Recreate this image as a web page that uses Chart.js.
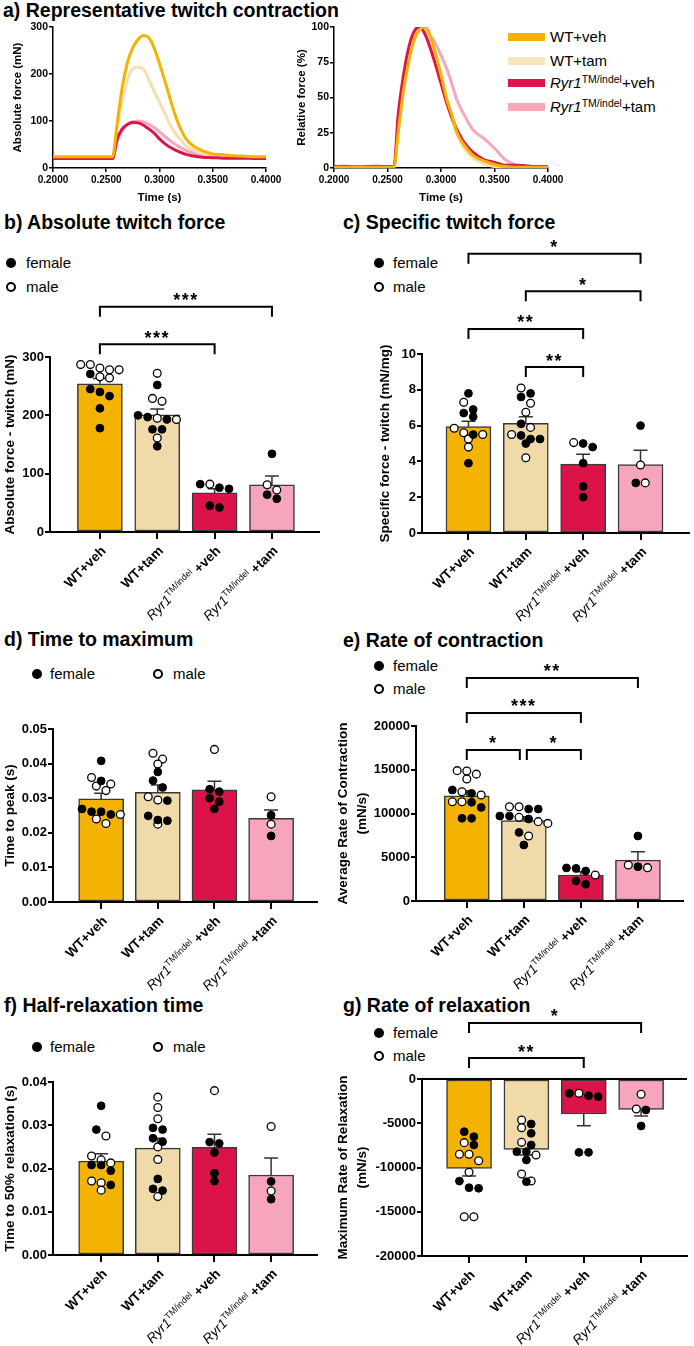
<!DOCTYPE html>
<html>
<head>
<meta charset="utf-8">
<script src="https://cdn.jsdelivr.net/npm/chart.js@4.4.1/dist/chart.umd.min.js"></script>
<style>
  body { margin: 0; background: #fff; font-family: "Liberation Sans", Arial, sans-serif; color: #000; }
  #page { position: relative; width: 694px; height: 1346px; overflow: hidden; }
  canvas { position: absolute; }
  .ttl { position: absolute; font-size: 19.5px; font-weight: bold; line-height: 20px; white-space: nowrap; }
  .lg { position: absolute; font-size: 15px; line-height: 16px; white-space: nowrap; }
  .lg sup { font-size: 10.5px; vertical-align: 5px; line-height: 0; }
  .dot { position: absolute; width: 10px; height: 10px; border-radius: 50%; background: #000; box-sizing: border-box; }
  .dot.m { background: #fff; border: 2px solid #000; }
  .sw { position: absolute; width: 37px; height: 8px; }
</style>
</head>
<body>
<div id="page">
  <div class="ttl" style="left:3px;top:0px">a) Representative twitch contraction</div>
  <div class="ttl" style="left:4px;top:212px">b) Absolute twitch force</div>
  <div class="ttl" style="left:343px;top:212px">c) Specific twitch force</div>
  <div class="ttl" style="left:4px;top:629px">d) Time to maximum</div>
  <div class="ttl" style="left:343px;top:630px">e) Rate of contraction</div>
  <div class="ttl" style="left:4px;top:995px">f) Half-relaxation time</div>
  <div class="ttl" style="left:343px;top:995px">g) Rate of relaxation</div>

  <div class="sw" style="left:508px;top:33px;background:#F5B301"></div>
  <div class="lg" style="left:550px;top:29px">WT+veh</div>
  <div class="sw" style="left:508px;top:57px;background:#F9E4BC"></div>
  <div class="lg" style="left:550px;top:53px">WT+tam</div>
  <div class="sw" style="left:508px;top:79px;background:#DC164A"></div>
  <div class="lg" style="left:550px;top:75px"><i>Ryr1</i><sup>TM/indel</sup>+veh</div>
  <div class="sw" style="left:508px;top:103px;background:#F7A6BC"></div>
  <div class="lg" style="left:550px;top:99px"><i>Ryr1</i><sup>TM/indel</sup>+tam</div>

  <div class="dot" style="left:6px;top:258px"></div><div class="lg" style="left:26px;top:255px">female</div>
  <div class="dot m" style="left:6px;top:282px"></div><div class="lg" style="left:26px;top:279px">male</div>
  <div class="dot" style="left:374px;top:258px"></div><div class="lg" style="left:393px;top:255px">female</div>
  <div class="dot m" style="left:374px;top:282px"></div><div class="lg" style="left:393px;top:279px">male</div>
  <div class="dot" style="left:32px;top:669px"></div><div class="lg" style="left:50px;top:666px">female</div>
  <div class="dot m" style="left:153px;top:669px"></div><div class="lg" style="left:173px;top:666px">male</div>
  <div class="dot" style="left:374px;top:661px"></div><div class="lg" style="left:393px;top:658px">female</div>
  <div class="dot m" style="left:374px;top:684px"></div><div class="lg" style="left:393px;top:681px">male</div>
  <div class="dot" style="left:32px;top:1042px"></div><div class="lg" style="left:50px;top:1039px">female</div>
  <div class="dot m" style="left:153px;top:1042px"></div><div class="lg" style="left:173px;top:1039px">male</div>
  <div class="dot" style="left:374px;top:1028px"></div><div class="lg" style="left:393px;top:1025px">female</div>
  <div class="dot m" style="left:374px;top:1051px"></div><div class="lg" style="left:393px;top:1048px">male</div>

  <canvas id="ca1" width="285" height="190" style="left:0px;top:18px"></canvas>
  <canvas id="ca2" width="280" height="190" style="left:290px;top:18px"></canvas>
  <canvas id="cb" width="330" height="340" style="left:0px;top:285px"></canvas>
  <canvas id="cc" width="354" height="395" style="left:340px;top:230px"></canvas>
  <canvas id="cd" width="330" height="290" style="left:0px;top:705px"></canvas>
  <canvas id="ce" width="361" height="345" style="left:333px;top:650px"></canvas>
  <canvas id="cf" width="330" height="281" style="left:0px;top:1065px"></canvas>
  <canvas id="cg" width="361" height="346" style="left:333px;top:1000px"></canvas>
</div>
<script>
// ---- panel a: representative traces ----
const traceTime = [0.200, 0.210, 0.220, 0.230, 0.240, 0.250, 0.256, 0.260, 0.265, 0.270, 0.275, 0.280, 0.285, 0.290, 0.295,
  0.300, 0.305, 0.310, 0.315, 0.320, 0.325, 0.330, 0.340, 0.350, 0.360, 0.370, 0.380, 0.390, 0.400];
const absWTveh  = [24, 24, 24, 24, 24, 24, 24, 90, 172, 225, 256, 274, 282, 277, 255, 222, 186, 147, 111, 82, 62, 50, 37, 30, 28, 26, 25, 24, 24];
const absWTtam  = [22, 22, 22, 22, 22, 22, 22, 80, 142, 188, 211, 215, 210, 188, 163, 140, 116, 92, 73, 60, 47, 40, 31, 27, 25, 24, 23, 22, 22];
const absRyrVeh = [20, 20, 20, 20, 20, 20, 20, 60, 83, 93, 97, 96, 91, 83, 74, 62, 52, 44, 38, 33, 29, 26, 23, 22, 21, 21, 21, 20, 20];
const absRyrTam = [21, 21, 21, 21, 21, 21, 21, 55, 80, 93, 99, 100, 98, 93, 86, 77, 67, 58, 50, 43, 37, 33, 28, 25, 23, 22, 22, 21, 21];
const relWTveh  = [0.5, 0.5, 0.5, 0.5, 0.5, 0.5, 0.5, 25, 55, 76, 91, 98, 100, 94, 81, 66, 50, 38, 25, 18, 13, 9, 5, 2.5, 1, 0.5, 0.5, 0.5, 0.5];
const relWTtam  = [0.5, 0.5, 0.5, 0.5, 0.5, 0.5, 0.5, 27, 58, 80, 93, 99, 99, 92, 79, 64, 49, 35, 24, 16, 11, 7, 3, 1, 0.5, 0.5, 0.5, 0.5, 0.5];
const relRyrVeh = [1, 1.2, 0.8, 1, 1.2, 1, 1, 38, 66, 86, 97, 100, 95, 85, 73, 60, 47, 36, 27, 20, 15, 11, 6, 4, 2, 2, 1.5, 1, 1];
const relRyrTam = [0.5, 0.5, 0.5, 0.5, 0.5, 0.5, 0.5, 30, 60, 82, 94, 100, 98, 94, 88, 80, 71, 60, 48, 40, 33, 27, 21, 14, 6, 2, 1, 0.5, 0.5];

// ---- panels b-g: group means, SEM and individual animals ----
const groups = ['WT+veh', 'WT+tam', 'Ryr1 TM/indel +veh', 'Ryr1 TM/indel +tam'];

const absMean = [254, 201, 67, 81];
const absSem = [9, 10, 7, 15];
const absFemale = [[271, 245, 240, 233, 212, 178], [252, 200, 197, 193, 176, 176, 147], [74, 76, 82, 42, 45], [134, 57, 64]];
const absMale = [[278, 287, 287, 278, 281, 266, 264], [272, 224, 229, 193, 195, 161], [82], [72, 81]];

const spMean = [5.94, 6.13, 3.85, 3.82];
const spSem = [0.31, 0.37, 0.55, 0.8];
const spFemale = [[7.8, 6.9, 6.7, 6.5, 5.5, 3.9], [7.6, 7.8, 6.1, 5.25, 5.25, 5.45, 5.0], [4.8, 5.0, 3.9, 2.6, 2.0], [6.0, 2.8]];
const spMale = [[7.3, 5.85, 5.5, 5.25, 5.6, 4.8], [8.1, 7.25, 6.75, 5.9, 5.5, 4.2], [5.05], [3.8, 2.8]];

const tpMean = [0.0298, 0.0317, 0.0324, 0.0242];
const tpSem = [0.0016, 0.0021, 0.0025, 0.0024];
const tpFemale = [[0.0408, 0.035, 0.0269, 0.0253, 0.0261, 0.0261], [0.0376, 0.0351, 0.0331, 0.0293, 0.0249, 0.0237, 0.0235],
  [0.0326, 0.0319, 0.030, 0.029, 0.0269], [0.0251, 0.0191]];
const tpMale = [[0.0341, 0.036, 0.0335, 0.0322, 0.0253, 0.0227, 0.024], [0.0413, 0.0399, 0.043, 0.0304, 0.0295, 0.0225], [0.0441], [0.0304, 0.0225]];

const rcMean = [12030, 9180, 2970, 4690];
const rcSem = [570, 460, 380, 950];
const rcFemale = [[12690, 12300, 10700, 11280, 9450, 9450], [9710, 9710, 10510, 10510, 9370, 7840, 6400], [3730, 3780, 3430, 1910, 2290], [7430, 3920]];
const rcMale = [[14900, 14500, 14850, 13940, 12490, 12110, 11350, 11350], [10780, 10780, 9560, 9070, 8870, 7430], [2970], [3810, 4110]];

const hrMean = [0.0217, 0.0247, 0.0249, 0.0185];
const hrSem = [0.0017, 0.0023, 0.003, 0.0039];
const hrFemale = [[0.0345, 0.029, 0.0208, 0.0208, 0.0195, 0.0162], [0.0294, 0.029, 0.027, 0.0262, 0.0176, 0.0153, 0.0149],
  [0.0261, 0.0258, 0.0237, 0.0189, 0.0171], [0.017, 0.0129]];
const hrMale = [[0.0275, 0.0229, 0.0213, 0.022, 0.0167, 0.0171, 0.015], [0.0365, 0.0341, 0.0315, 0.025, 0.0221, 0.0135], [0.038], [0.0297, 0.0148]];

const rrMean = [-10090, -7950, -3950, -3430];
const rrSem = [870, 640, 1320, 750];
const rrFemale = [[-6520, -5950, -7460, -11530, -12280, -12350], [-5080, -6140, -7460, -8210, -8210, -9150, -11600],
  [-1880, -2000, -1620, -8290, -8290], [-3500, -5310]];
const rrMale = [[-7190, -8510, -8510, -9230, -10540, -15560, -15560], [-4630, -5500, -7160, -8590, -10730, -11530], [-1620], [-1730, -3390]];

const FONT = '"Liberation Sans", Arial, sans-serif';
Chart.defaults.font.family = FONT;
Chart.defaults.color = '#000';

const barColors = ['#F4B300', '#F0DAAA', '#DC1349', '#F7A5BC'];
const lineColors = ['#F5B301', '#F5DEB0', '#DC164A', '#F7A6BC'];

// label pieces: b = bold, i = italic gene name, s = superscript
const labelParts = groups.map(g => g.startsWith('Ryr1')
  ? [['Ryr1', 'i'], ['TM/indel', 's'], [' ' + g.split(' ')[2], 'b']]
  : [[g, 'b']]);

function drawGroupLabel(ctx, parts, x, y) {
  const fonts = { b: 'bold 13.5px ' + FONT, i: 'italic 13.5px ' + FONT, s: '9px ' + FONT };
  ctx.save();
  ctx.translate(x, y);
  ctx.rotate(-Math.PI / 4);
  ctx.textBaseline = 'middle';
  ctx.textAlign = 'left';
  ctx.fillStyle = '#000';
  let total = 0;
  const widths = parts.map(([t, k]) => { ctx.font = fonts[k]; const w = ctx.measureText(t).width; total += w; return w; });
  let cx = -total;
  parts.forEach(([t, k], i) => { ctx.font = fonts[k]; ctx.fillText(t, cx, k === 's' ? -4 : 0); cx += widths[i]; });
  ctx.restore();
}

function annot(p) {
  return {
    id: 'annot',
    afterDatasetDraw(chart, args) {
      if (args.index !== 0) return;
      const ctx = chart.ctx, xs = chart.scales.x, ys = chart.scales.y;
      ctx.save();
      ctx.strokeStyle = '#333';
      ctx.lineWidth = 1.5;
      p.mean.forEach((m, i) => {
        const x = xs.getPixelForValue(i);
        const y0 = ys.getPixelForValue(m);
        const y1 = ys.getPixelForValue(m + Math.sign(m) * p.sem[i]);
        ctx.beginPath();
        ctx.moveTo(x, y0); ctx.lineTo(x, y1);
        ctx.moveTo(x - 7, y1); ctx.lineTo(x + 7, y1);
        ctx.stroke();
      });
      ctx.restore();
    },
    afterDraw(chart) {
      const ctx = chart.ctx, xs = chart.scales.x, ys = chart.scales.y, area = chart.chartArea;
      ctx.save();
      ctx.strokeStyle = '#000';
      ctx.fillStyle = '#000';
      ctx.lineWidth = 2;
      if (p.zeroLine) {
        const y0 = ys.getPixelForValue(0);
        ctx.beginPath(); ctx.moveTo(area.left, y0); ctx.lineTo(area.right, y0); ctx.stroke();
      }
      ctx.font = 'bold 18px ' + FONT;
      ctx.textAlign = 'center';
      ctx.textBaseline = 'alphabetic';
      try { ctx.letterSpacing = '1.5px'; } catch (e) {}
      (p.brackets || []).forEach(b => {
        const x1 = xs.getPixelForValue(b.from) + (b.inL || 0);
        const x2 = xs.getPixelForValue(b.to) - (b.inR || 0);
        const y = ys.getPixelForValue(b.at);
        ctx.beginPath();
        ctx.moveTo(x1, y + 10); ctx.lineTo(x1, y); ctx.lineTo(x2, y); ctx.lineTo(x2, y + 10);
        ctx.stroke();
        ctx.fillText(b.text, (x1 + x2) / 2, y - 0.5);
      });
      try { ctx.letterSpacing = '0px'; } catch (e) {}
      ctx.restore();
      labelParts.forEach((parts, i) => drawGroupLabel(ctx, parts, xs.getPixelForValue(i) + 4, area.bottom + 17));
    }
  };
}

// GraphPad-like scatter: points with close values are laid out in centred rows
function swarm(chart, fem, mal) {
  const xs = chart.scales.x, ys = chart.scales.y;
  const unit = xs.getPixelForValue(1) - xs.getPixelForValue(0);
  const D = 9.6;
  const fOut = [], mOut = [];
  fem.forEach((_, g) => {
    const pts = fem[g].map(v => ({ v, s: 0 })).concat(mal[g].map(v => ({ v, s: 1 })));
    pts.forEach(pt => { pt.py = ys.getPixelForValue(pt.v); });
    pts.sort((a, b) => a.py - b.py);
    const rows = [];
    pts.forEach(pt => {
      const r = rows[rows.length - 1];
      if (r && Math.abs(pt.py - r[0].py) < D * 0.8) r.push(pt); else rows.push([pt]);
    });
    rows.forEach(r => r.forEach((pt, k) => {
      (pt.s ? mOut : fOut).push({ x: g + (k - (r.length - 1) / 2) * D / unit, y: pt.v });
    }));
  });
  chart.data.datasets[1].data = fOut;
  chart.data.datasets[2].data = mOut;
  chart.update('none');
}

function barPanel(id, p) {
  const chart = new Chart(document.getElementById(id), {
    type: 'bar',
    data: {
      datasets: [
        { data: p.mean.map((m, i) => ({ x: i, y: m })), backgroundColor: barColors, borderColor: '#3a3a3a',
          borderWidth: 1.5, borderSkipped: false, barThickness: 45, order: 3 },
        { type: 'scatter', data: [], pointRadius: 3.9, backgroundColor: '#000', borderColor: '#000',
          pointBackgroundColor: '#000', pointBorderColor: '#000', pointBorderWidth: 1, order: 1 },
        { type: 'scatter', data: [], pointRadius: 3.9, backgroundColor: '#fff', borderColor: '#000',
          pointBackgroundColor: '#fff', pointBorderColor: '#000', pointBorderWidth: 1.3, order: 2 }
      ]
    },
    options: {
      responsive: false, animation: false, events: [],
      layout: { padding: { top: p.padTop, right: p.padRight, left: 0, bottom: 0 } },
      plugins: { legend: { display: false }, tooltip: { enabled: false } },
      scales: {
        x: {
          type: 'linear', min: p.xMin, max: p.xMax, offset: false,
          afterBuildTicks: s => { s.ticks = [0, 1, 2, 3].map(v => ({ value: v })); },
          afterFit: s => { s.height = p.xH; },
          ticks: { display: false },
          grid: { offset: false, drawOnChartArea: false, drawTicks: true, tickLength: 7, color: '#000', lineWidth: 2 },
          border: { display: true, color: '#000', width: 2 }
        },
        y: {
          min: p.yMin, max: p.yMax,
          afterFit: s => { s.width = p.yW; },
          ticks: { stepSize: p.step, padding: 1, font: { size: 13, weight: 'bold' }, callback: p.fmt },
          grid: { drawOnChartArea: false, drawTicks: true, tickLength: 5, color: '#000', lineWidth: 2 },
          border: { display: true, color: '#000', width: 2 },
          title: { display: true, text: p.yTitle, font: { size: 13.5, weight: 'bold', lineHeight: 1.4 },
                   padding: { top: p.titlePad, bottom: 0 } }
        }
      }
    },
    plugins: [annot(p)]
  });
  swarm(chart, p.female, p.male);
}

function tracePanel(id, series, yMax, yStep, yTitle, yW, padRight, titlePad) {
  const order = [0, 2, 1, 3];
  new Chart(document.getElementById(id), {
    type: 'line',
    data: {
      datasets: order.map(k => ({
        data: traceTime.map((t, i) => ({ x: t, y: series[k][i] })),
        borderColor: lineColors[k], borderWidth: 3, pointRadius: 0, fill: false,
        cubicInterpolationMode: 'monotone'
      }))
    },
    options: {
      responsive: false, animation: false, events: [],
      layout: { padding: { top: 9, right: padRight, left: 0, bottom: 0 } },
      plugins: { legend: { display: false }, tooltip: { enabled: false } },
      scales: {
        x: {
          type: 'linear', min: 0.2, max: 0.4,
          afterFit: s => { s.height = 40; },
          ticks: { stepSize: 0.05, padding: 2, maxRotation: 0, font: { size: 10, weight: 'bold' }, callback: v => v.toFixed(4) },
          grid: { drawOnChartArea: false, tickLength: 4, color: '#000', lineWidth: 1.5 },
          border: { display: true, color: '#000', width: 1.5 },
          title: { display: true, text: 'Time (s)', font: { size: 11.5, weight: 'bold' }, padding: { top: 0, bottom: 3 } }
        },
        y: {
          min: 0, max: yMax,
          afterFit: s => { s.width = yW; },
          ticks: { stepSize: yStep, padding: 1, font: { size: 10.5, weight: 'bold' } },
          grid: { drawOnChartArea: false, tickLength: 4, color: '#000', lineWidth: 1.5 },
          border: { display: true, color: '#000', width: 1.5 },
          title: { display: true, text: yTitle, font: { size: 11.5, weight: 'bold' }, padding: { top: titlePad, bottom: 0 } }
        }
      }
    }
  });
}

tracePanel('ca1', [absWTveh, absWTtam, absRyrVeh, absRyrTam], 300, 100, 'Absolute force (mN)', 53, 19, 11);
tracePanel('ca2', [relWTveh, relWTtam, relRyrVeh, relRyrTam], 100, 25, 'Relative force (%)', 44, 22, 5);

const fmt2 = v => v.toFixed(2);
const fmtInt = v => String(Math.round(v));

barPanel('cb', { mean: absMean, sem: absSem, female: absFemale, male: absMale, yMin: 0, yMax: 300, step: 100, fmt: fmtInt,
  yTitle: 'Absolute force - twitch (mN)', yW: 50, xH: 93, padTop: 72, padRight: 11, titlePad: 1, xMin: -0.87, xMax: 3.82,
  brackets: [{ from: 0, to: 2, at: 322, text: '***' }, { from: 0, to: 3, at: 386, text: '***' }] });

barPanel('cc', { mean: spMean, sem: spSem, female: spFemale, male: spMale, yMin: 0, yMax: 10, step: 2, fmt: fmtInt,
  yTitle: 'Specific force - twitch (mN/mg)', yW: 82, xH: 92, padTop: 124, padRight: 2, titlePad: 36, xMin: -0.81, xMax: 3.84,
  brackets: [{ from: 1, to: 2, at: 9.27, text: '**' }, { from: 0, to: 2, at: 11.4, text: '**' },
             { from: 1, to: 3, at: 13.5, text: '*' }, { from: 0, to: 3, at: 15.6, text: '*' }] });

barPanel('cd', { mean: tpMean, sem: tpSem, female: tpFemale, male: tpMale, yMin: 0, yMax: 0.05, step: 0.01, fmt: fmt2,
  yTitle: 'Time to peak (s)', yW: 53, xH: 93, padTop: 24, padRight: 13, titlePad: 1, xMin: -0.85, xMax: 3.81 });

barPanel('ce', { mean: rcMean, sem: rcSem, female: rcFemale, male: rcMale, yMin: 0, yMax: 20000, step: 5000, fmt: fmtInt,
  yTitle: ['Average Rate of Contraction', '(mN/s)'], yW: 83, xH: 94, padTop: 76, padRight: 11, titlePad: 1, xMin: -0.89, xMax: 3.79,
  brackets: [{ from: 0, to: 1, at: 17260, text: '*', inR: 4 }, { from: 1, to: 2, at: 17260, text: '*', inL: 3 },
             { from: 0, to: 2, at: 21490, text: '***' }, { from: 0, to: 3, at: 25490, text: '**' }] });

barPanel('cf', { mean: hrMean, sem: hrSem, female: hrFemale, male: hrMale, yMin: 0, yMax: 0.04, step: 0.01, fmt: fmt2,
  yTitle: 'Time to 50% relaxation (s)', yW: 53, xH: 91, padTop: 17, padRight: 13, titlePad: 1, xMin: -0.85, xMax: 3.81 });

barPanel('cg', { mean: rrMean, sem: rrSem, female: rrFemale, male: rrMale, yMin: -20000, yMax: 0, step: 5000, fmt: fmtInt,
  yTitle: ['Maximum Rate of Relaxation', '(mN/s)'], yW: 89, xH: 90, padTop: 79, padRight: 7, titlePad: 1, xMin: -0.82, xMax: 3.8,
  zeroLine: true,
  brackets: [{ from: 0, to: 2, at: 2370, text: '**' }, { from: 0, to: 3, at: 6330, text: '*' }] });
</script>
</body>
</html>
